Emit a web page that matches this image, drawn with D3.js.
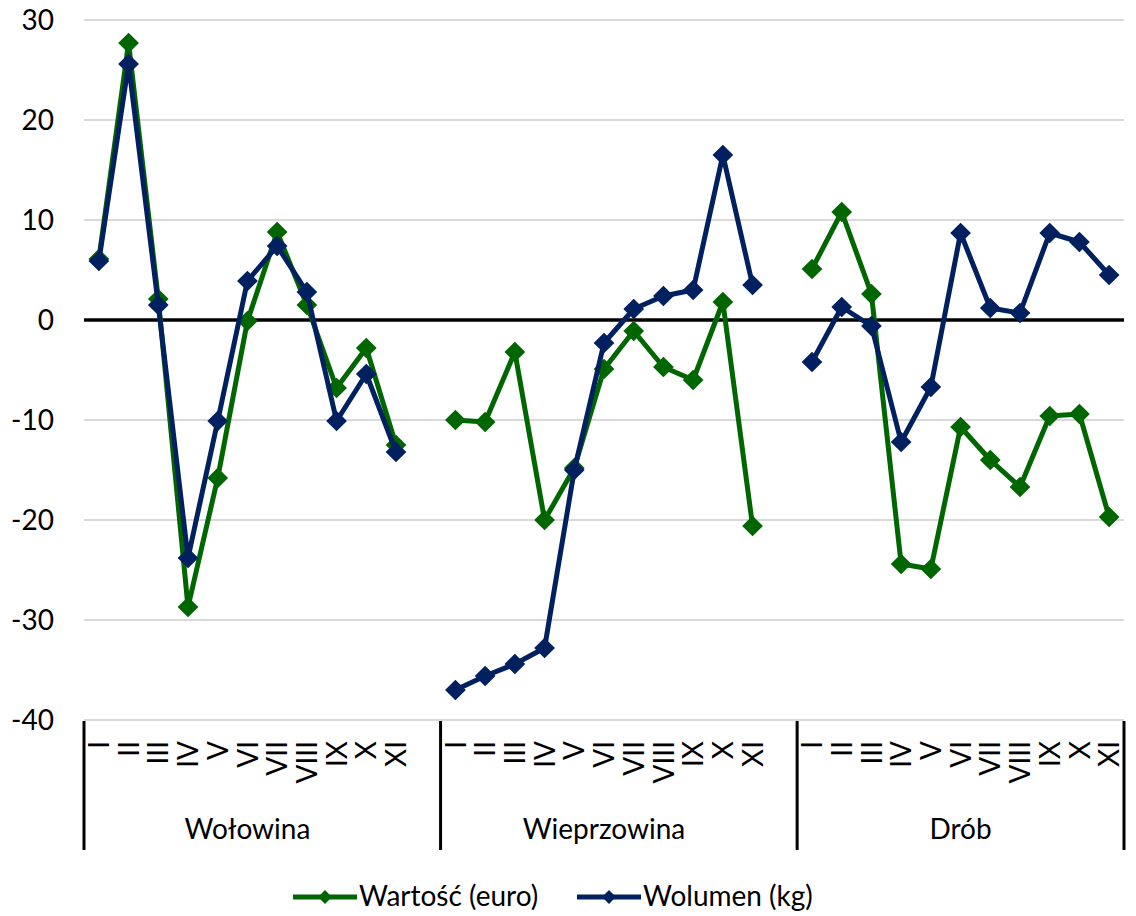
<!DOCTYPE html>
<html>
<head>
<meta charset="utf-8">
<script src="https://cdn.jsdelivr.net/npm/d3@7"></script>
<style>
  body { margin: 0; background: #fff; }
  text { font-family: Lato, "Open Sans", sans-serif; fill: #000; }
</style>
</head>
<body>
<div id="chart"></div>
<script>
// dane
var groups = ["Wołowina", "Wieprzowina", "Drób"];
var months = ["I", "II", "III", "IV", "V", "VI", "VII", "VIII", "IX", "X", "XI"];
var yTicks = [30, 20, 10, 0, -10, -20, -30, -40];

var wartoscWolowina    = [6.1, 27.7, 2.1, -28.7, -15.8, -0.1, 8.8, 1.5, -6.8, -2.8, -12.5];
var wartoscWieprzowina = [-10.0, -10.2, -3.2, -20.0, -14.8, -4.9, -1.1, -4.7, -6.0, 1.8, -20.6];
var wartoscDrob        = [5.1, 10.8, 2.6, -24.4, -24.9, -10.7, -14.0, -16.7, -9.6, -9.4, -19.7];

var wolumenWolowina    = [5.9, 25.6, 1.5, -23.8, -10.1, 3.9, 7.4, 2.8, -10.1, -5.4, -13.2];
var wolumenWieprzowina = [-37.0, -35.6, -34.4, -32.8, -15.0, -2.3, 1.1, 2.4, 3.0, 16.5, 3.5];
var wolumenDrob        = [-4.2, 1.3, -0.6, -12.2, -6.7, 8.7, 1.2, 0.7, 8.7, 7.8, 4.5];

var series = [
  { name: "Wartość (euro)", color: "#006600", values: [wartoscWolowina, wartoscWieprzowina, wartoscDrob] },
  { name: "Wolumen (kg)",   color: "#002060", values: [wolumenWolowina, wolumenWieprzowina, wolumenDrob] }
];

var width = 1136, height = 916;
var plotLeft = 84, plotRight = 1124, plotTop = 20, plotBottom = 720;
var slotsPerGroup = 12;   // 11 miesięcy + pusta kategoria
var nSlots = slotsPerGroup * (groups.length - 1) + months.length;

var svg = d3.select("#chart").append("svg")
    .attr("width", width)
    .attr("height", height);

var x = d3.scaleBand()
    .domain(d3.range(nSlots))
    .range([plotLeft, plotRight])
    .paddingInner(0).paddingOuter(0);

var y = d3.scaleLinear()
    .domain([-40, 30])
    .range([plotBottom, plotTop]);

function slot(gi, mi) { return gi * slotsPerGroup + mi; }
function cx(gi, mi) { return x(slot(gi, mi)) + x.bandwidth() / 2; }

// siatka
svg.append("g")
    .selectAll("line")
    .data(yTicks.filter(function (d) { return d !== 0; }))
    .enter().append("line")
    .attr("x1", plotLeft).attr("x2", plotRight)
    .attr("y1", function (d) { return y(d); })
    .attr("y2", function (d) { return y(d); })
    .attr("stroke", "#d9d9d9")
    .attr("stroke-width", 2);

// oś Y
svg.append("g")
    .selectAll("text")
    .data(yTicks)
    .enter().append("text")
    .attr("x", 54)
    .attr("y", function (d) { return y(d); })
    .attr("dy", "0.35em")
    .attr("text-anchor", "end")
    .style("font-size", "28px")
    .text(function (d) { return d; });

// etykiety miesięcy
groups.forEach(function (g, gi) {
  svg.append("g")
      .selectAll("text")
      .data(months)
      .enter().append("text")
      .attr("transform", function (d, mi) {
        return "translate(" + cx(gi, mi) + ",741) rotate(-90)";
      })
      .attr("dy", "0.36em")
      .attr("text-anchor", "end")
      .style("font-size", "28px")
      .text(function (d) { return d; });

  var x0 = x(slot(gi, 0));
  var x1 = x(slot(gi, months.length - 1)) + x.bandwidth();
  svg.append("text")
      .attr("x", (x0 + x1) / 2)
      .attr("y", 839)
      .attr("text-anchor", "middle")
      .style("font-size", "28px")
      .text(g);
});

// separatory grup
var seps = [plotLeft];
groups.forEach(function (g, gi) {
  var last = Math.min(slot(gi, slotsPerGroup - 1), nSlots - 1);
  seps.push(x(last) + x.bandwidth());
});
svg.append("g")
    .selectAll("line")
    .data(seps)
    .enter().append("line")
    .attr("x1", function (d) { return d; })
    .attr("x2", function (d) { return d; })
    .attr("y1", plotBottom + 1)
    .attr("y2", 850)
    .attr("stroke", "#000")
    .attr("stroke-width", 3);

// linia zero
svg.append("line")
    .attr("x1", plotLeft).attr("x2", plotRight)
    .attr("y1", y(0)).attr("y2", y(0))
    .attr("stroke", "#000")
    .attr("stroke-width", 3.5);

var line = d3.line()
    .x(function (d) { return cx(d.g, d.m); })
    .y(function (d) { return y(d.v); });

var diamond = d3.symbol().type(d3.symbolSquare).size(215);

series.forEach(function (s) {
  var layer = svg.append("g");
  s.values.forEach(function (vals, gi) {
    var pts = vals.map(function (v, mi) { return { g: gi, m: mi, v: v }; });
    layer.append("path")
        .datum(pts)
        .attr("d", line)
        .attr("fill", "none")
        .attr("stroke", s.color)
        .attr("stroke-width", 5)
        .attr("stroke-linejoin", "round");
    layer.selectAll(null)
        .data(pts)
        .enter().append("path")
        .attr("d", diamond)
        .attr("transform", function (d) {
          return "translate(" + cx(d.g, d.m) + "," + y(d.v) + ") rotate(45)";
        })
        .attr("fill", s.color);
  });
});

// legenda
var legendX = [293, 577];
var legend = svg.append("g");
series.forEach(function (s, i) {
  var lg = legend.append("g").attr("transform", "translate(" + legendX[i] + ",897)");
  lg.append("line")
      .attr("x1", 0).attr("x2", 64)
      .attr("stroke", s.color).attr("stroke-width", 5);
  lg.append("path")
      .attr("d", d3.symbol().type(d3.symbolSquare).size(95))
      .attr("transform", "translate(32,0) rotate(45)")
      .attr("fill", s.color);
  lg.append("text")
      .attr("x", 66)
      .attr("y", 9)
      .style("font-size", "28px")
      .text(s.name);
});
</script>
</body>
</html>
